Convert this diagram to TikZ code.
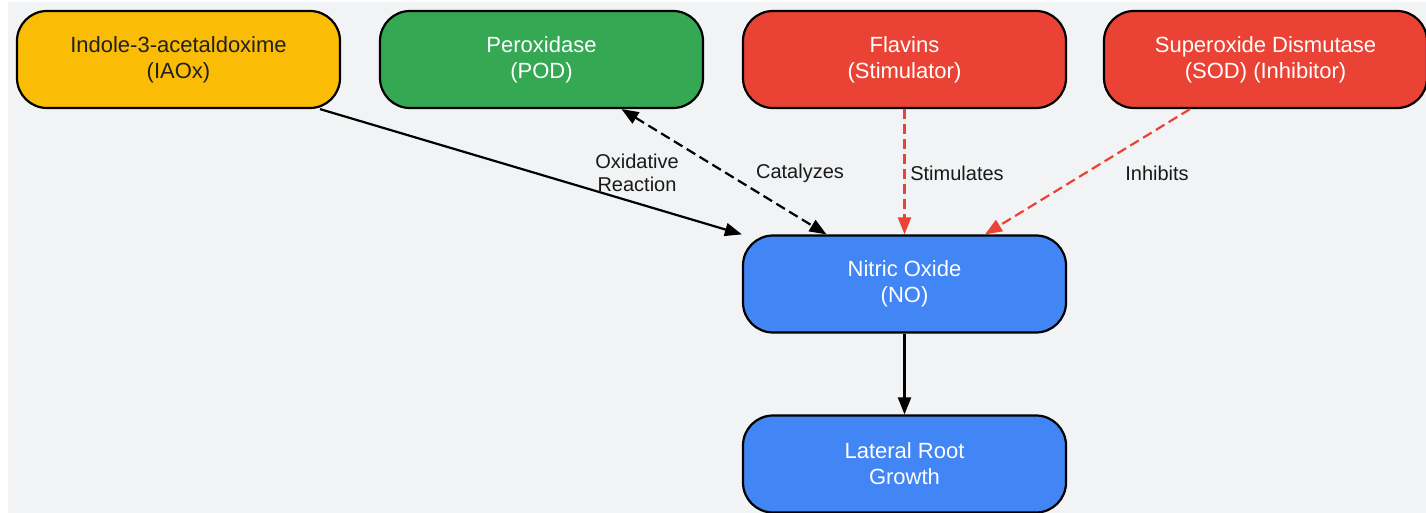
\documentclass[tikz,border=0pt]{standalone}
\usepackage{fontspec}
\setmainfont{Liberation Sans}
\usetikzlibrary{arrows.meta,calc}
\definecolor{bg}{HTML}{F1F3F4}
\definecolor{gyellow}{HTML}{FBBC05}
\definecolor{ggreen}{HTML}{34A853}
\definecolor{gred}{HTML}{EA4335}
\definecolor{gblue}{HTML}{4285F4}
\definecolor{textdark}{HTML}{202124}
\begin{document}
\begin{tikzpicture}[x=1pt,y=-1pt,
  box/.style={draw=black,line width=2.2pt,rounded corners=30pt,minimum width=323pt,minimum height=97pt,inner sep=0pt,align=center,font=\fontsize{22}{26}\selectfont,text=white},
  lbl/.style={font=\fontsize{20}{23}\selectfont,align=center,text=black!90},
  arr/.style={line width=2.2pt,-{Triangle[length=17pt,width=13pt]}},
  darr/.style={line width=2.2pt,dash pattern=on 10pt off 5pt,{Triangle[length=17pt,width=13pt]}-{Triangle[length=17pt,width=13pt]}},
  rarr/.style={line width=2.2pt,draw=gred,dash pattern=on 10pt off 5pt,-{Triangle[length=17pt,width=13pt]}}]
\useasboundingbox (0,0) rectangle (1426,513);
\fill[bg] (8,2) rectangle (1426,513);
\node[box,fill=gyellow,text=textdark] (iaox) at (178.5,59.5) {Indole-3-acetaldoxime\\(IAOx)};
\node[box,fill=ggreen] (pod) at (541.5,59.5) {Peroxidase\\(POD)};
\node[box,fill=gred] (fla) at (904.5,59.5) {Flavins\\(Stimulator)};
\node[box,fill=gred] (sod) at (1265.5,59.5) {Superoxide Dismutase\\(SOD) (Inhibitor)};
\node[box,fill=gblue] (no) at (904.5,284) {Nitric Oxide\\(NO)};
\node[box,fill=gblue] (lrg) at (904.5,464) {Lateral Root\\Growth};
\draw[arr] ($(iaox.south)+(141.5,0)$) -- (no.north west);
\draw[darr] ($(pod.south)+(80,0)$) -- ($(no.north)+(-78,0)$);
\draw[rarr] (fla.south) -- (no.north);
\draw[rarr] ($(sod.south)+(-75.5,0)$) -- ($(no.north)+(80.5,0)$);
\draw[arr] (no.south) -- (lrg.north);
\node[lbl] (l1) at (637,173) {Oxidative\\Reaction};
\node[lbl] (l2) at (800,173) {Catalyzes};
\node[lbl] (l3) at (957,173) {Stimulates};
\node[lbl] (l4) at (1157,173) {Inhibits};
\end{tikzpicture}
\end{document}
